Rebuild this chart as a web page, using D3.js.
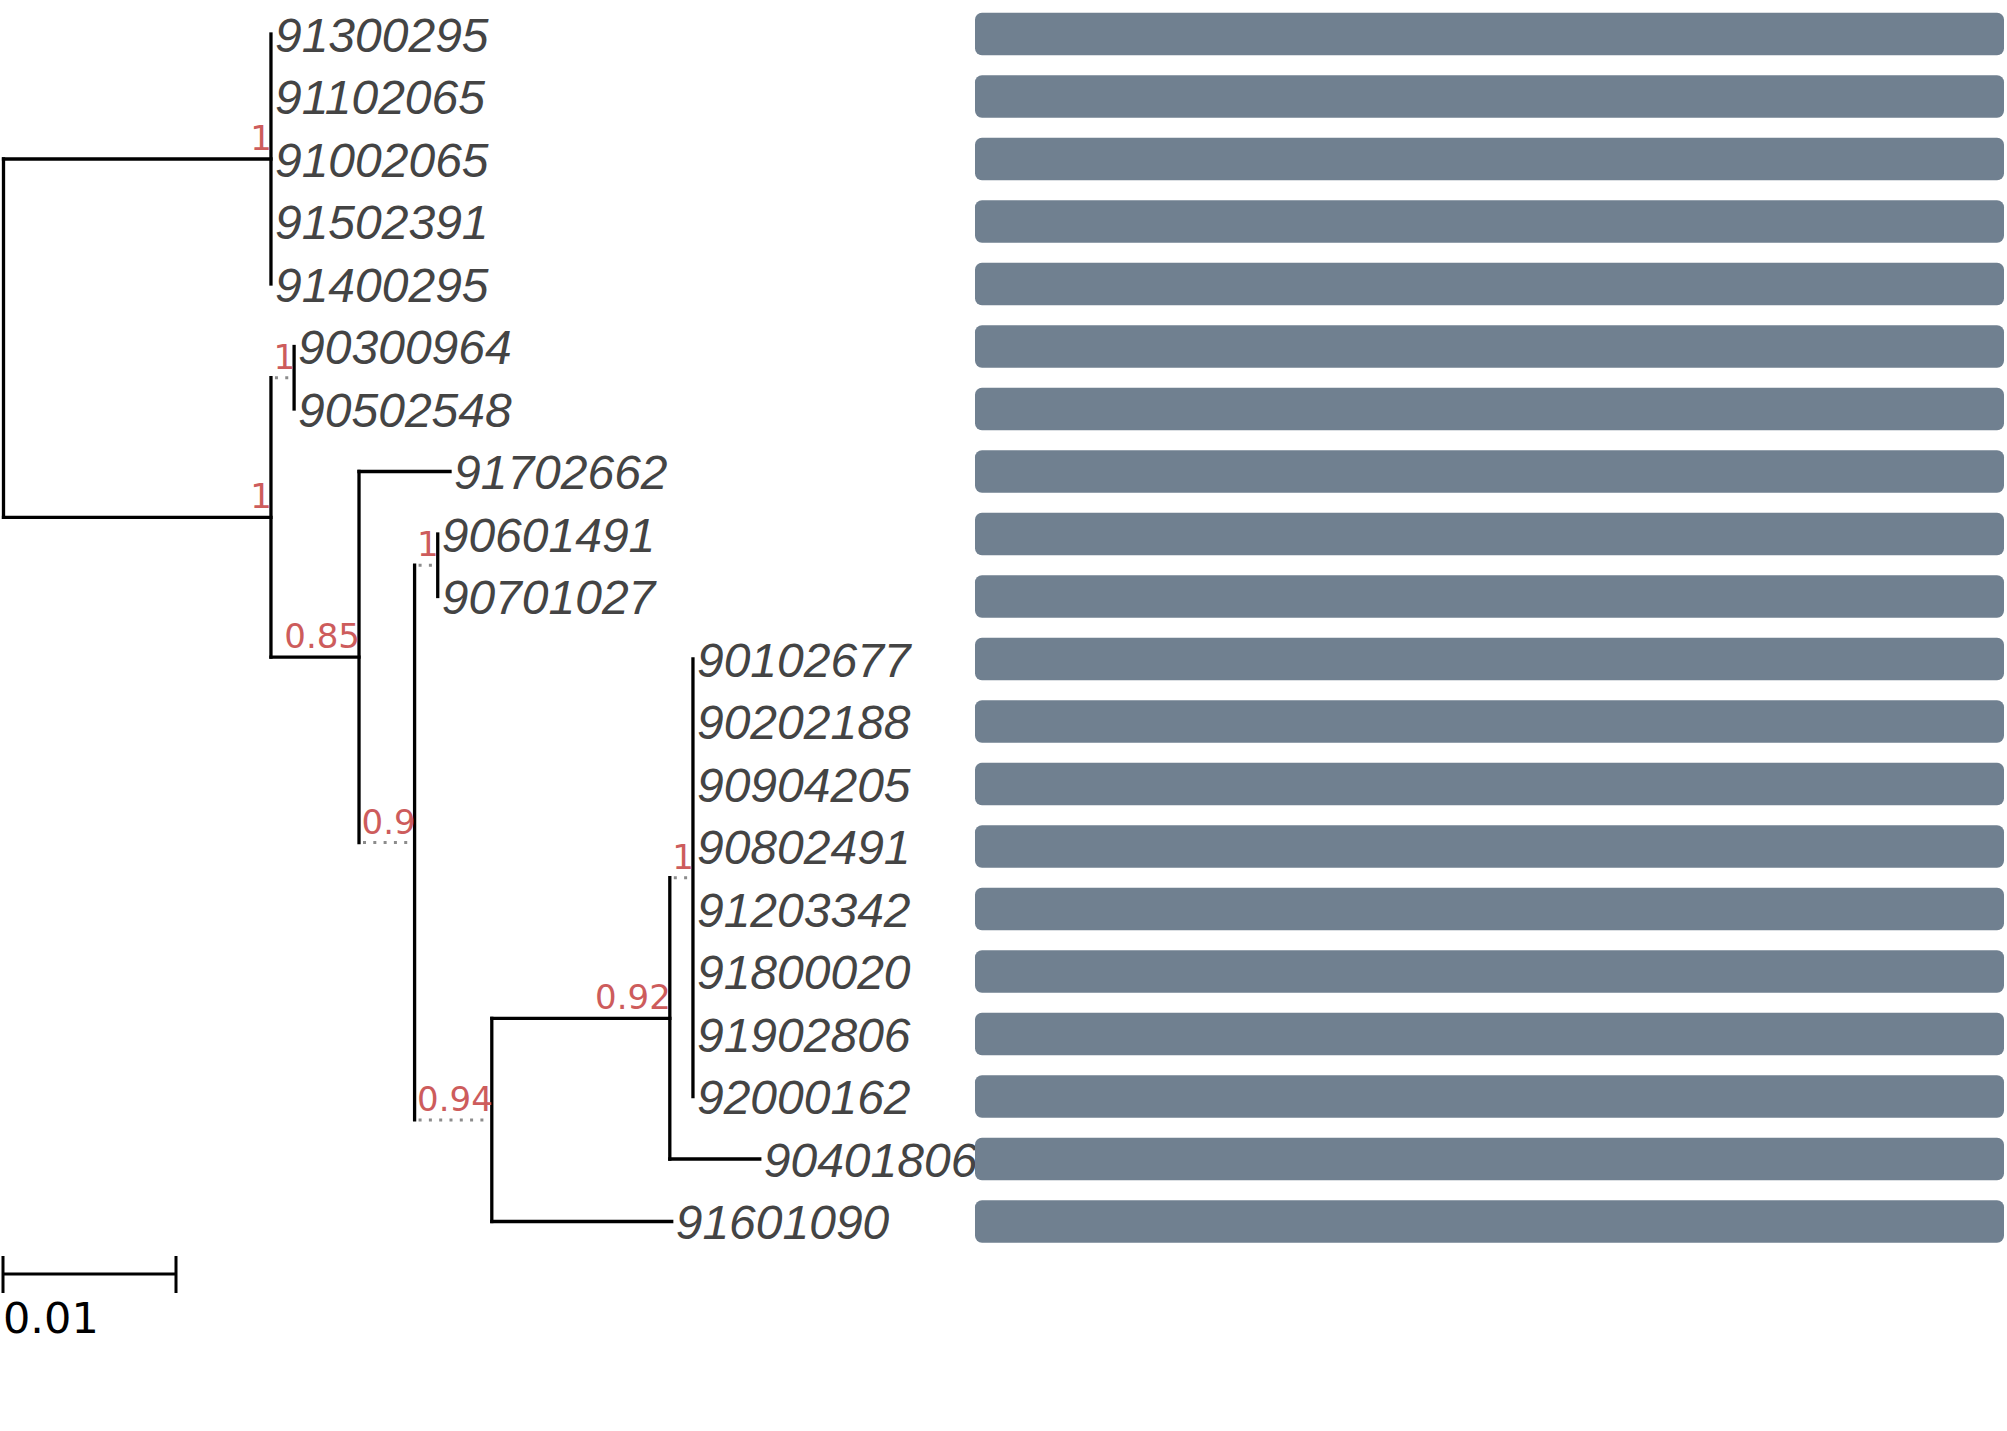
<!DOCTYPE html>
<html>
<head>
<meta charset="utf-8">
<script src="https://d3js.org/d3.v7.min.js"></script>
<style>
  html, body { margin: 0; padding: 0; background: #fff; }
  svg { display: block; }
</style>
</head>
<body>
<svg id="tree" width="2007" height="1431"></svg>
<script>
/*************************************************************************/
// tree data: one entry per branch, children listed in drawing order

var nodeIds = ['n0',
  'n1', '91300295', '91102065', '91002065', '91502391', '91400295',
  'n2', 'n3', '90300964', '90502548',
  'n4', '91702662', 'n5', 'n6', '90601491', '90701027',
  'n7', 'n8', 'n9', '90102677', '90202188', '90904205', '90802491',
  '91203342', '91800020', '91902806', '92000162', '90401806', '91601090'];

var parentIds = [null,
  'n0', 'n1', 'n1', 'n1', 'n1', 'n1',
  'n0', 'n2', 'n3', 'n3',
  'n2', 'n4', 'n4', 'n5', 'n6', 'n6',
  'n5', 'n7', 'n8', 'n9', 'n9', 'n9', 'n9',
  'n9', 'n9', 'n9', 'n9', 'n8', 'n7'];

var branchLengths = [0,
  0.01546, 0, 0, 0, 0, 0,
  0.01546, 0, 0, 0,
  0.00509, 0.00526, 0, 0, 0, 0,
  0, 0.01029, 0, 0, 0, 0, 0,
  0, 0, 0, 0, 0.0052, 0.0104];

var supportValues = [null,
  1, null, null, null, null, null,
  1, 1, null, null,
  0.85, null, 0.9, 1, null, null,
  0.94, 0.92, 1, null, null, null, null,
  null, null, null, null, null, null];

// value shown by the bar next to each tip (all full length)
var barValues = [1, 1, 1, 1, 1, 1, 1, 1, 1, 1, 1, 1, 1, 1, 1, 1, 1, 1, 1, 1];

var scaleBarLength = 0.01;

/*************************************************************************/

function Tree(){
  this.svg = d3.select('#tree');
  this.width = +this.svg.attr('width');
  this.height = +this.svg.attr('height');
  this.create();
}

/*************************************************************************/

Tree.prototype.create = function(){
  var rows = nodeIds.map((id, i) => {
    return { id: id, parent: parentIds[i], length: branchLengths[i], support: supportValues[i] };
  });
  this.root = d3.stratify().id(d => d.id).parentId(d => d.parent)(rows);
  this.leaves = this.root.leaves();

  this.xScale = d3.scaleLinear().domain([0, scaleBarLength]).range([3.5, 176.5]);
  this.yScale = d3.scaleBand()
    .domain(this.leaves.map(d => d.id))
    .range([2.75, 1252.75])
    .paddingInner(0.32)
    .paddingOuter(0.16);
  this.barScale = d3.scaleLinear().domain([0, 1]).range([975, 2004]);

  this.supportFont = { family: 'DejaVu Sans', size: 34, color: 'indianred' };
  this.labelFont = { family: 'Liberation Sans', size: 48, color: '#444' };

  this.layout();
  this.draw();
}

/*************************************************************************/

Tree.prototype.measure = function(str){
  var t = this.svg.append('text')
    .attr('font-family', this.supportFont.family)
    .attr('font-size', this.supportFont.size)
    .text(str);
  var w = t.node().getComputedTextLength();
  t.remove();
  return w;
}

/*************************************************************************/

Tree.prototype.layout = function(){
  var self = this;
  var x0 = this.xScale(0);

  // x: branch length, stretched with a dotted line when the support label is wider
  this.root.eachBefore(d => {
    if(!d.parent){ d.px = x0; d.solidEnd = x0; return; }
    var solid = self.xScale(d.data.length) - x0;
    var ext = (d.children && d.data.support != null) ? self.measure(String(d.data.support)) + 1.5 : 0;
    d.solidEnd = d.parent.px + solid;
    d.px = d.parent.px + Math.max(solid, ext);
  });

  // y: tips on rows, inner nodes midway between first and last child
  var bw = this.yScale.bandwidth();
  this.root.eachAfter(d => {
    if(!d.children){ d.py = self.yScale(d.id) + bw / 2; }
    else { d.py = (d.children[0].py + d.children[d.children.length - 1].py) / 2; }
  });
}

/*************************************************************************/

Tree.prototype.draw = function(){
  var self = this;
  var nodes = this.root.descendants();
  var branches = nodes.filter(d => d.parent);
  var inner = nodes.filter(d => d.children);
  var g = this.svg.append('g');

  // solid part of each branch
  g.selectAll('.branch')
    .data(branches.filter(d => d.solidEnd > d.parent.px))
    .join('line')
    .attr('class', 'branch')
    .attr('x1', d => d.parent.px).attr('x2', d => d.solidEnd)
    .attr('y1', d => d.py).attr('y2', d => d.py)
    .style('stroke', '#000').style('stroke-width', 3.3).style('stroke-linecap', 'square');

  // dotted extension
  g.selectAll('.extra')
    .data(branches.filter(d => d.px - d.solidEnd > 0.5))
    .join('line')
    .attr('class', 'extra')
    .attr('x1', d => d.solidEnd + 4).attr('x2', d => d.px - 2)
    .attr('y1', d => d.py).attr('y2', d => d.py)
    .style('stroke', '#8c8c8c').style('stroke-width', 3).style('stroke-dasharray', '3,7.3');

  // vertical lines joining the children
  g.selectAll('.vline')
    .data(inner)
    .join('line')
    .attr('class', 'vline')
    .attr('x1', d => d.px).attr('x2', d => d.px)
    .attr('y1', d => d.children[0].py).attr('y2', d => d.children[d.children.length - 1].py)
    .style('stroke', '#000').style('stroke-width', 3.3).style('stroke-linecap', 'square');

  // support values
  g.selectAll('.support')
    .data(inner.filter(d => d.data.support != null))
    .join('text')
    .attr('class', 'support')
    .attr('x', d => d.px + 1).attr('y', d => d.py - 9)
    .attr('text-anchor', 'end')
    .attr('font-family', this.supportFont.family)
    .attr('font-size', this.supportFont.size)
    .style('fill', this.supportFont.color)
    .text(d => String(d.data.support));

  // tip names
  g.selectAll('.tip')
    .data(this.leaves)
    .join('text')
    .attr('class', 'tip')
    .attr('x', d => d.px + 4).attr('y', d => d.py + 17.5)
    .attr('font-family', this.labelFont.family)
    .attr('font-size', this.labelFont.size)
    .attr('font-style', 'italic')
    .style('fill', this.labelFont.color)
    .text(d => d.id);

  // bars aligned to the right
  g.selectAll('.bar')
    .data(this.leaves)
    .join('rect')
    .attr('class', 'bar')
    .attr('x', this.barScale(0))
    .attr('y', d => self.yScale(d.id))
    .attr('width', (d, i) => self.barScale(barValues[i]) - self.barScale(0))
    .attr('height', this.yScale.bandwidth())
    .attr('rx', 7).attr('ry', 7)
    .style('fill', 'slategray');

  this.drawScale();
}

/*************************************************************************/

Tree.prototype.drawScale = function(){
  var s = this.svg.append('g');
  var x1 = this.xScale(0) - 0.5, x2 = this.xScale(scaleBarLength) - 0.5, y = 1274;
  s.append('path')
    .attr('d', 'M' + x1 + ',' + y + 'H' + x2 + 'M' + x1 + ',' + (y - 18) + 'V' + (y + 19) + 'M' + x2 + ',' + (y - 18) + 'V' + (y + 19))
    .style('stroke', '#000').style('stroke-width', 3).style('fill', 'none');
  s.append('text')
    .attr('x', x1).attr('y', 1333)
    .attr('font-family', 'DejaVu Sans')
    .attr('font-size', 43)
    .style('fill', '#000')
    .text(String(scaleBarLength));
}

/*************************************************************************/

var tree = new Tree();
</script>
</body>
</html>
